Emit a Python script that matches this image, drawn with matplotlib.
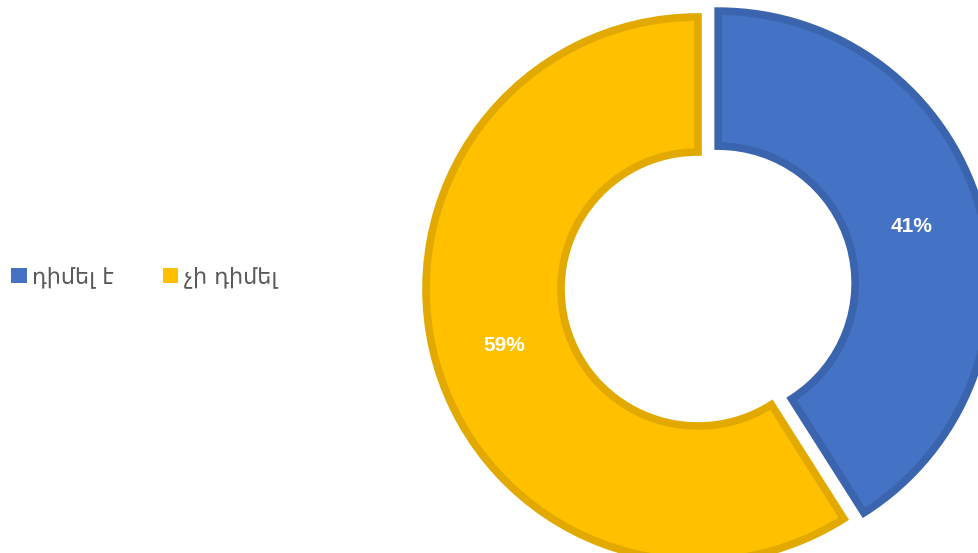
import matplotlib
matplotlib.use("Agg")
import matplotlib.pyplot as plt
from matplotlib.patches import Patch

categories = ["դիմել է", "չի դիմել"]
values = [41, 59]
fill_colors = ["#4472C4", "#FFC000"]
edge_colors = ["#3B64AE", "#E2AA00"]

W, H = 979, 553
fig = plt.figure(figsize=(W / 100, H / 100), dpi=100)
ax = fig.add_axes([0, 0, 1, 1])

cx, cy, R = 698, 264, 272
wedges, texts, autotexts = ax.pie(
    values, colors=fill_colors, startangle=90, counterclock=False,
    explode=[21, 0], center=(cx, cy), radius=R,
    autopct=lambda p: f"{p:.0f}%", pctdistance=0.74,
    wedgeprops=dict(width=135, linewidth=5.5),
    textprops=dict(color="white", fontsize=15, fontweight="bold",
                   family=["Liberation Sans", "DejaVu Sans"]))
for w, ec in zip(wedges, edge_colors):
    w.set_edgecolor(ec)
    w.set_joinstyle("miter")

ax.set_xlim(0, W)
ax.set_ylim(0, H)
ax.set_aspect("equal")
ax.axis("off")

handles = [Patch(facecolor=c, edgecolor="none") for c in fill_colors]
leg = fig.legend(handles, categories, loc="center left",
                 bbox_to_anchor=(0.0, 1 - 277 / H), ncol=2, frameon=False,
                 borderaxespad=0.0, borderpad=0.5,
                 handlelength=0.7, handleheight=0.7, handletextpad=0.25,
                 columnspacing=2.2,
                 prop=dict(family=["DejaVu Sans"], size=16))
for t in leg.get_texts():
    t.set_color("#595959")

fig.savefig("out.png", dpi=100)
